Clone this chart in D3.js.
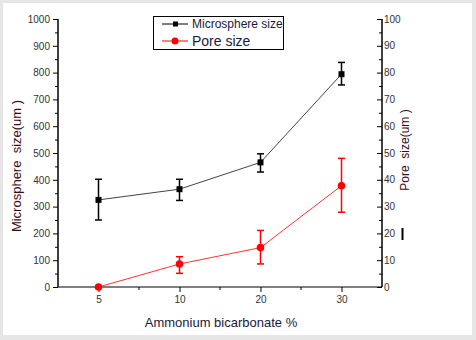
<!DOCTYPE html>
<html><head><meta charset="utf-8">
<script src="https://cdn.jsdelivr.net/npm/d3@7"></script>
<style>body{margin:0;background:#e6e6e6;}svg{display:block;font-family:"Liberation Sans",Arial,sans-serif;}</style>
</head><body><svg id="c" width="476" height="340"></svg>
<script>
const categories = ["5", "10", "20", "30"];
const microValues = [325, 365, 465, 794];
const microErrLow = [250, 323, 429, 754];
const microErrHigh = [402, 402, 497, 838];
const poreValues = [0, 8.6, 14.7, 37.8];
const poreErrLow = [null, 5.1, 8.6, 27.9];
const poreErrHigh = [null, 11.3, 21.1, 48];
const leftTicks = [0,100,200,300,400,500,600,700,800,900,1000];
const rightTicks = [0,10,20,30,40,50,60,70,80,90,100];
const xTitle = "Ammonium bicarbonate %";
const yLeftTitle = "Microsphere  size(um )";
const yRightTitle = "Pore  size(um )";
const legendLabels = ["Microsphere size", "Pore size"];

const svg = d3.select("#c");
svg.append("rect").attr("x",3).attr("y",3).attr("width",469).attr("height",332).attr("fill","#fff");

const L=58, R=382, T=19, B=287;
const x = d3.scalePoint().domain(categories).range([L,R]).padding(0.5);
const yL = d3.scaleLinear().domain([0,1000]).range([B,T]);
const yR = d3.scaleLinear().domain([0,100]).range([B,T]);
const tc = "#333";

// Left axis
const gL = svg.append("g").attr("transform",`translate(${L},0)`);
gL.call(d3.axisLeft(yL).tickValues(d3.range(50,1000,100)).tickSize(3).tickFormat(""));
gL.call(g=>{g.append("g").call(d3.axisLeft(yL).tickValues(leftTicks).tickSize(5).tickPadding(3).tickFormat(d3.format("d")));});
gL.selectAll("path.domain").attr("stroke","#000").attr("d",`M0,${B}V${T}`);
gL.selectAll("line").attr("stroke","#000");
gL.selectAll("text").attr("fill",tc).style("font-size","10px");

// Right axis (ticks inward)
const gR = svg.append("g").attr("transform",`translate(${R},0)`);
gR.call(d3.axisLeft(yR).tickValues(d3.range(5,100,10)).tickSize(3).tickFormat(""));
gR.call(g=>{g.append("g").call(d3.axisLeft(yR).tickValues(rightTicks).tickSize(5).tickFormat(""));});
gR.selectAll("path.domain").attr("stroke","#000").attr("d",`M0,${B}V${T}`);
gR.selectAll("line").attr("stroke","#000");
gR.selectAll(".rlab").data(rightTicks).join("text").attr("class","rlab")
  .attr("x",2).attr("y",d=>yR(d)).attr("dy","0.35em").attr("fill",tc).attr("text-anchor","start")
  .style("font-size","10px").text(d=>d);

// Bottom axis
const gB = svg.append("g").attr("transform",`translate(0,${B})`);
const mids = [];
for(let i=0;i<categories.length-1;i++) mids.push((x(categories[i])+x(categories[i+1]))/2);
gB.selectAll(".mt").data(mids).join("line").attr("x1",d=>d).attr("x2",d=>d).attr("y1",0).attr("y2",3).attr("stroke","#000");
gB.call(g=>{g.append("g").call(d3.axisBottom(x).tickSize(5).tickPadding(4));});
gB.selectAll("path.domain").attr("stroke","#000").attr("d",`M${L},0H${R}`);
gB.selectAll("line").attr("stroke","#000");
gB.selectAll("text").attr("fill",tc).style("font-size","10px");

// Titles
svg.append("text").attr("x",221).attr("y",327).attr("text-anchor","middle")
  .style("font-size","13px").attr("fill","#1a1a3a").text(xTitle);
svg.append("text").attr("transform","translate(21,166) rotate(-90)").attr("text-anchor","middle")
  .style("font-size","13px").style("white-space","pre").attr("fill","#3a0a14").text(yLeftTitle);
svg.append("text").attr("transform","translate(409,150) rotate(-90)").attr("text-anchor","middle")
  .style("font-size","12px").style("white-space","pre").attr("fill","#3a0a14").text(yRightTitle);
svg.append("line").attr("x1",402.5).attr("x2",402.5).attr("y1",228).attr("y2",240).attr("stroke","#000").attr("stroke-width",2);

// Series
const line = d3.line();
function drawSeries(vals, lo, hi, yS, color, lineColor, shape){
  const pts = vals.map((v,i)=>[x(categories[i]), yS(v)]);
  svg.append("path").attr("d",line(pts)).attr("fill","none").attr("stroke",lineColor).attr("stroke-width",1);
  vals.forEach((v,i)=>{
    if(lo[i]==null) return;
    const cx = x(categories[i]);
    const g = svg.append("g").attr("stroke",color).attr("stroke-width",1.5);
    g.append("line").attr("x1",cx).attr("x2",cx).attr("y1",yS(lo[i])).attr("y2",yS(hi[i]));
    g.append("line").attr("x1",cx-3.5).attr("x2",cx+3.5).attr("y1",yS(lo[i])).attr("y2",yS(lo[i]));
    g.append("line").attr("x1",cx-3.5).attr("x2",cx+3.5).attr("y1",yS(hi[i])).attr("y2",yS(hi[i]));
  });
  vals.forEach((v,i)=>{
    const cx = x(categories[i]), cy = yS(v);
    if(shape==="square") svg.append("rect").attr("x",cx-3).attr("y",cy-3).attr("width",6).attr("height",6).attr("fill",color);
    else svg.append("circle").attr("cx",cx).attr("cy",cy).attr("r",3.8).attr("fill",color);
  });
}
drawSeries(microValues, microErrLow, microErrHigh, yL, "#000", "#444", "square");
drawSeries(poreValues, poreErrLow, poreErrHigh, yR, "#f00", "#ff3333", "circle");

// Legend
const lg = svg.append("g");
lg.append("rect").attr("x",153.5).attr("y",16.5).attr("width",130).attr("height",33).attr("fill","#fff").attr("stroke","#000");
const rows = [{y:24, c:"#000", shape:"square", fs:12},{y:41, c:"#f00", shape:"circle", fs:14}];
rows.forEach((r,i)=>{
  lg.append("line").attr("x1",162).attr("x2",188).attr("y1",r.y).attr("y2",r.y).attr("stroke",r.c);
  if(r.shape==="square") lg.append("rect").attr("x",173).attr("y",r.y-2.5).attr("width",5).attr("height",5).attr("fill",r.c);
  else lg.append("circle").attr("cx",175).attr("cy",r.y).attr("r",3.5).attr("fill",r.c);
  lg.append("text").attr("x",192).attr("y",r.y).attr("dy","0.35em").style("font-size",r.fs+"px").attr("fill","#1a1a3a").text(legendLabels[i]);
});
</script></body></html>
